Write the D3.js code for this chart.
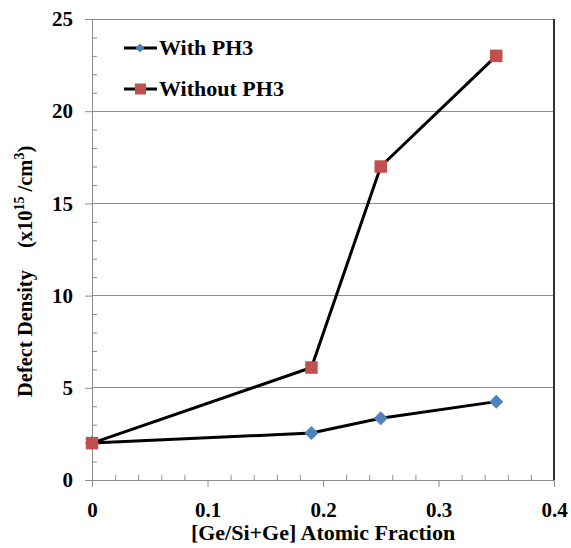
<!DOCTYPE html>
<html><head><meta charset="utf-8">
<script src="https://cdn.jsdelivr.net/npm/d3@7"></script>
</head><body style="margin:0;background:#fff">
<script>
const xWith = [0, 0.19, 0.25, 0.35];
const yWith = [2.0, 2.55, 3.35, 4.25];
const xWithout = [0, 0.19, 0.25, 0.35];
const yWithout = [2.0, 6.1, 17.0, 23.0];
const seriesNames = ["With PH3", "Without PH3"];
const xTicks = [0, 0.1, 0.2, 0.3, 0.4];
const yTicks = [0, 5, 10, 15, 20, 25];

const W = 571, H = 548;
const L = 92, R = 554, T = 19, B = 480;
const FONT = "'Liberation Serif', 'Times New Roman', serif";
const svg = d3.select("body").append("svg").attr("width", W).attr("height", H)
  .style("display", "block").style("font-family", FONT);
svg.append("rect").attr("width", W).attr("height", H).attr("fill", "#fff");

const x = d3.scaleLinear().domain([0, 0.4]).range([L, R]);
const y = d3.scaleLinear().domain([0, 25]).range([B, T]);
const gray = "#8c8c8c";

function styleText(sel, size) {
  sel.attr("font-family", FONT).style("font-family", FONT)
    .style("font-weight", "bold").style("font-size", size + "px").attr("fill", "#000");
}

// gridlines
svg.append("g").selectAll("line").data(yTicks.filter(d => d > 0)).join("line")
  .attr("x1", L).attr("x2", R).attr("y1", d => y(d)).attr("y2", d => y(d))
  .attr("stroke", gray).attr("stroke-width", 1).attr("shape-rendering", "crispEdges");
// right border
svg.append("line").attr("x1", R).attr("x2", R).attr("y1", T).attr("y2", B)
  .attr("stroke", "#333").attr("stroke-width", 1.5).attr("shape-rendering", "crispEdges");

// minor ticks
const yMinor = d3.range(0, 25.001, 1).filter(d => d % 5 !== 0);
svg.append("g").attr("transform", `translate(${L},0)`)
  .call(d3.axisRight(y).tickValues(yMinor).tickSize(5).tickFormat(""))
  .call(g => g.select(".domain").remove())
  .call(g => g.selectAll("line").attr("stroke", gray));
const xMinor = d3.range(0, 0.4001, 0.02).filter((d, i) => i % 5 !== 0);
svg.append("g").attr("transform", `translate(0,${B})`)
  .call(d3.axisTop(x).tickValues(xMinor).tickSize(5).tickFormat(""))
  .call(g => g.select(".domain").remove())
  .call(g => g.selectAll("line").attr("stroke", gray));

// major axes
const yAxis = svg.append("g").attr("transform", `translate(${L},0)`)
  .call(d3.axisLeft(y).tickValues(yTicks).tickSizeOuter(0).tickSize(7).tickPadding(12).tickFormat(d3.format("d")));
yAxis.attr("font-family", FONT).attr("font-size", 21);
yAxis.select(".domain").attr("stroke", gray);
yAxis.selectAll("line").attr("stroke", gray);
styleText(yAxis.selectAll("text"), 21);

const xAxis = svg.append("g").attr("transform", `translate(0,${B})`)
  .call(d3.axisBottom(x).tickValues(xTicks).tickSizeOuter(0).tickSize(7).tickPadding(15).tickFormat(d => d === 0 ? "0" : d3.format(".1f")(d)));
xAxis.attr("font-family", FONT).attr("font-size", 21);
xAxis.select(".domain").attr("stroke", gray);
xAxis.selectAll("line").attr("stroke", gray);
styleText(xAxis.selectAll("text"), 21);

// lines
const line = d3.line().x(d => x(d[0])).y(d => y(d[1]));
const dWith = xWith.map((v, i) => [v, yWith[i]]);
const dWithout = xWithout.map((v, i) => [v, yWithout[i]]);
const blue = "#4F81BD", red = "#C0504D";

svg.append("path").datum(dWith).attr("d", line).attr("fill", "none").attr("stroke", "#000").attr("stroke-width", 3);
svg.append("g").selectAll("path").data(dWith).join("path")
  .attr("d", d3.symbol(d3.symbolDiamond2, 125)).attr("transform", d => `translate(${x(d[0])},${y(d[1])})`).attr("fill", blue);
svg.append("path").datum(dWithout).attr("d", line).attr("fill", "none").attr("stroke", "#000").attr("stroke-width", 3);
svg.append("g").selectAll("rect").data(dWithout).join("rect")
  .attr("x", d => x(d[0]) - 6.25).attr("y", d => y(d[1]) - 6.25).attr("width", 12.5).attr("height", 12.5).attr("fill", red);

// legend
const leg = svg.append("g");
const legY = [48, 89];
seriesNames.forEach((name, i) => {
  const g = leg.append("g").attr("transform", `translate(0,${legY[i]})`);
  g.append("line").attr("x1", 124).attr("x2", 157).attr("stroke", "#000").attr("stroke-width", 3);
  if (i === 0) g.append("path").attr("d", d3.symbol(d3.symbolDiamond2, 50)).attr("transform", "translate(140,0)").attr("fill", blue);
  else g.append("rect").attr("x", 135).attr("y", -5.5).attr("width", 11).attr("height", 11).attr("fill", red);
  styleText(g.append("text").attr("x", 159).attr("y", 7).text(name), 22);
});

// axis titles
styleText(svg.append("text").attr("x", (L + R) / 2).attr("y", 540).attr("text-anchor", "middle")
  .text("[Ge/Si+Ge] Atomic Fraction"), 22);
const yt = svg.append("text").attr("transform", `translate(32,397) rotate(-90)`).attr("text-anchor", "start");
styleText(yt, 20.5);
yt.append("tspan").text("Defect Density");
yt.append("tspan").attr("dx", 22).text("(x10");
yt.append("tspan").style("font-size", "14px").attr("dy", -8).text("15");
yt.append("tspan").attr("dy", 8).attr("dx", 5).text("/cm");
yt.append("tspan").style("font-size", "14px").attr("dy", -8).text("3");
yt.append("tspan").attr("dy", 8).text(")");
</script>
</body></html>
